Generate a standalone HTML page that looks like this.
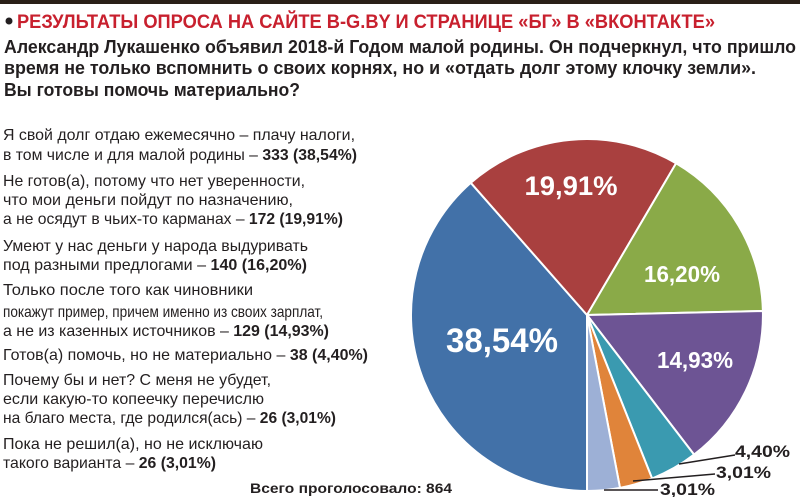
<!DOCTYPE html>
<html><head><meta charset="utf-8"><style>
html,body{margin:0;padding:0;background:#fff;}
svg{display:block;}
.t{font-family:"Liberation Sans","DejaVu Sans",sans-serif;font-size:16px;fill:#231f20;}
.b{font-weight:bold;}
.w{font-family:"Liberation Sans",sans-serif;font-weight:bold;fill:#fff;text-anchor:middle;}
.o{font-family:"Liberation Sans",sans-serif;font-weight:bold;fill:#231f20;font-size:17px;}
</style></head><body>
<svg width="800" height="497" viewBox="0 0 800 497" xmlns="http://www.w3.org/2000/svg">
<rect x="0" y="0" width="800" height="4" fill="#2a2018"/>
<circle cx="9" cy="21" r="3.5" fill="#231f20"/>
<text x="17" y="28" font-family="Liberation Sans,sans-serif" font-weight="bold" font-size="19" fill="#c8202e" textLength="698" lengthAdjust="spacingAndGlyphs">РЕЗУЛЬТАТЫ ОПРОСА НА САЙТЕ B-G.BY И СТРАНИЦЕ «БГ» В «ВКОНТАКТЕ»</text>
<g font-family="Liberation Sans,sans-serif" font-weight="bold" font-size="18" fill="#231f20">
<text x="4" y="53" textLength="792" lengthAdjust="spacingAndGlyphs">Александр Лукашенко объявил 2018-й Годом малой родины. Он подчеркнул, что пришло</text>
<text x="4" y="74" textLength="752" lengthAdjust="spacingAndGlyphs">время не только вспомнить о своих корнях, но и «отдать долг этому клочку земли».</text>
<text x="4" y="96" textLength="296" lengthAdjust="spacingAndGlyphs">Вы готовы помочь материально?</text>
</g>
<g class="t">
<text x="3" y="140" textLength="352" lengthAdjust="spacingAndGlyphs">Я свой долг отдаю ежемесячно – плачу налоги,</text>
<text x="3" y="160" textLength="354" lengthAdjust="spacingAndGlyphs">в том числе и для малой родины – <tspan class="b">333 (38,54%)</tspan></text>
<text x="3" y="186" textLength="302" lengthAdjust="spacingAndGlyphs">Не готов(а), потому что нет уверенности,</text>
<text x="3" y="205" textLength="290" lengthAdjust="spacingAndGlyphs">что мои деньги пойдут по назначению,</text>
<text x="3" y="224" textLength="340" lengthAdjust="spacingAndGlyphs">а не осядут в чьих-то карманах – <tspan class="b">172 (19,91%)</tspan></text>
<text x="3" y="251" textLength="305" lengthAdjust="spacingAndGlyphs">Умеют у нас деньги у народа выдуривать</text>
<text x="3" y="270" textLength="304" lengthAdjust="spacingAndGlyphs">под разными предлогами – <tspan class="b">140 (16,20%)</tspan></text>
<text x="3" y="295" textLength="250" lengthAdjust="spacingAndGlyphs">Только после того как чиновники</text>
<text x="3" y="317" textLength="320" lengthAdjust="spacingAndGlyphs">покажут пример, причем именно из своих зарплат,</text>
<text x="3" y="336" textLength="326" lengthAdjust="spacingAndGlyphs">а не из казенных источников – <tspan class="b">129 (14,93%)</tspan></text>
<text x="3" y="360" textLength="365" lengthAdjust="spacingAndGlyphs">Готов(а) помочь, но не материально – <tspan class="b">38 (4,40%)</tspan></text>
<text x="3" y="385" textLength="268" lengthAdjust="spacingAndGlyphs">Почему бы и нет? С меня не убудет,</text>
<text x="3" y="404" textLength="261" lengthAdjust="spacingAndGlyphs">если какую-то копеечку перечислю</text>
<text x="3" y="423" textLength="333" lengthAdjust="spacingAndGlyphs">на благо места, где родился(ась) – <tspan class="b">26 (3,01%)</tspan></text>
<text x="3" y="449" textLength="260" lengthAdjust="spacingAndGlyphs">Пока не решил(а), но не исключаю</text>
<text x="3" y="468" textLength="213" lengthAdjust="spacingAndGlyphs">такого варианта – <tspan class="b">26 (3,01%)</tspan></text>
</g>
<text x="250" y="493" font-family="Liberation Sans,sans-serif" font-weight="bold" font-size="14" fill="#231f20" textLength="202" lengthAdjust="spacingAndGlyphs">Всего проголосовало: 864</text>
<g stroke="#fff" stroke-width="2" stroke-linejoin="round">
<path d="M587 315 L587 491 A176 176 0 0 1 470.8 182.8 Z" fill="#4271a8"/>
<path d="M587 315 L470.8 182.8 A176 176 0 0 1 676.1 163.3 Z" fill="#a9403f"/>
<path d="M587 315 L676.1 163.3 A176 176 0 0 1 762.9 311 Z" fill="#8aaa48"/>
<path d="M587 315 L762.9 311 A176 176 0 0 1 694.1 454.6 Z" fill="#6d5494"/>
<path d="M587 315 L694.1 454.6 A176 176 0 0 1 652.1 478.5 Z" fill="#3a9ab0"/>
<path d="M587 315 L652.1 478.5 A176 176 0 0 1 620 487.9 Z" fill="#e0843a"/>
<path d="M587 315 L620 487.9 A176 176 0 0 1 587 491 Z" fill="#9db0d6"/>
</g>
<text class="w" x="502" y="352" font-size="34" textLength="112" lengthAdjust="spacingAndGlyphs">38,54%</text>
<text class="w" x="571" y="195" font-size="27" textLength="93" lengthAdjust="spacingAndGlyphs">19,91%</text>
<text class="w" x="682" y="282" font-size="23" textLength="76" lengthAdjust="spacingAndGlyphs">16,20%</text>
<text class="w" x="695" y="368" font-size="23" textLength="76" lengthAdjust="spacingAndGlyphs">14,93%</text>
<g stroke="#231f20" stroke-width="1.5">
<line x1="679" y1="464" x2="735" y2="455"/>
<line x1="633" y1="481" x2="715" y2="474"/>
<line x1="604" y1="490" x2="658" y2="490"/>
</g>
<text class="o" x="735" y="457" textLength="55" lengthAdjust="spacingAndGlyphs">4,40%</text>
<text class="o" x="716" y="478" textLength="55" lengthAdjust="spacingAndGlyphs">3,01%</text>
<text class="o" x="660" y="495" textLength="55" lengthAdjust="spacingAndGlyphs">3,01%</text>
</svg>
</body></html>
